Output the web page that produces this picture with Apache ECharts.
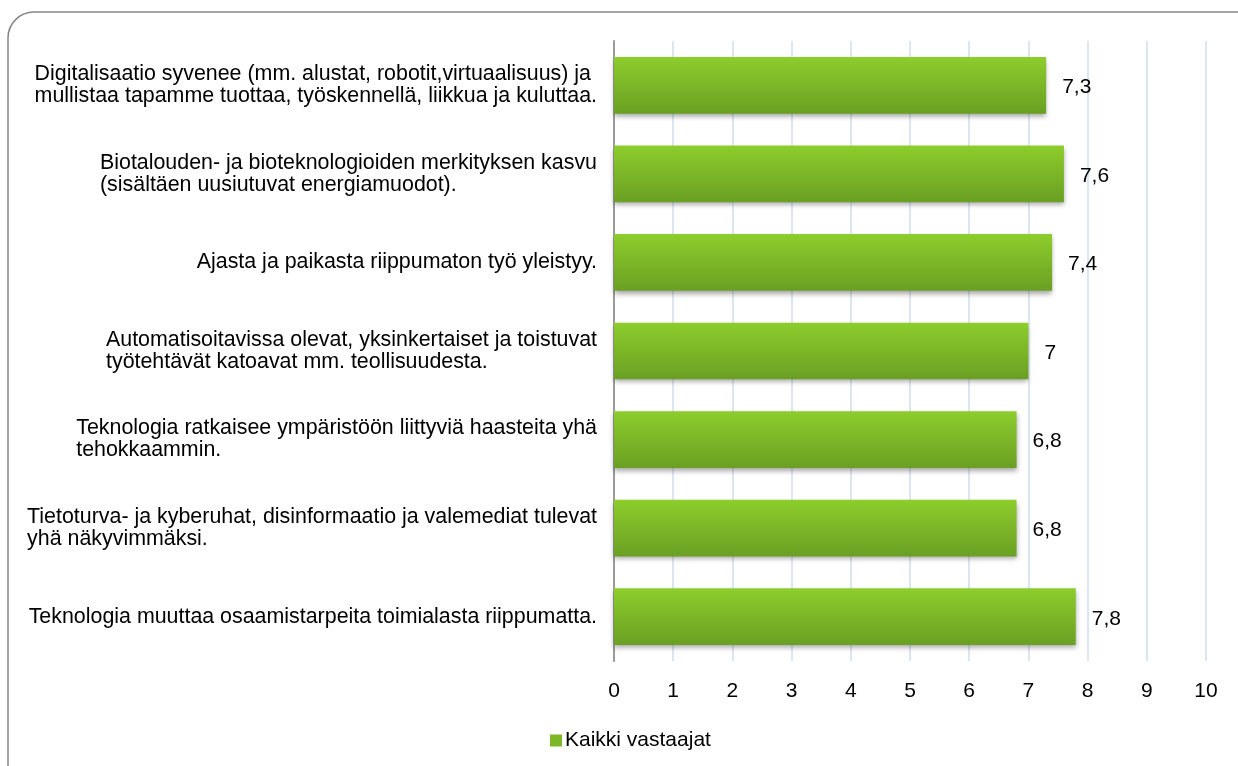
<!DOCTYPE html>
<html>
<head>
<meta charset="utf-8">
<script src="https://cdn.jsdelivr.net/npm/echarts@6/dist/echarts.min.js"></script>
<style>
  html, body { margin: 0; padding: 0; background: #fff; }
  #chart { width: 1238px; height: 766px; }
</style>
</head>
<body>
<div id="chart"></div>
<script>
const categories = [
  "Digitalisaatio syvenee (mm. alustat, robotit,virtuaalisuus) ja\nmullistaa tapamme tuottaa, työskennellä, liikkua ja kuluttaa.",
  "Biotalouden- ja bioteknologioiden merkityksen kasvu\n(sisältäen uusiutuvat energiamuodot).",
  "Ajasta ja paikasta riippumaton työ yleistyy.",
  "Automatisoitavissa olevat, yksinkertaiset ja toistuvat\ntyötehtävät katoavat mm. teollisuudesta.",
  "Teknologia ratkaisee ympäristöön liittyviä haasteita yhä\ntehokkaammin.",
  "Tietoturva- ja kyberuhat, disinformaatio ja valemediat tulevat\nyhä näkyvimmäksi.",
  "Teknologia muuttaa osaamistarpeita toimialasta riippumatta."
];
const values = [7.3, 7.6, 7.4, 7.0, 6.8, 6.8, 7.8];
const seriesName = "Kaikki vastaajat";

const font = "'Liberation Sans', Arial, sans-serif";
const fs = 21;
const chart = echarts.init(document.getElementById("chart"), null, { renderer: "canvas" });

const barGradient = new echarts.graphic.LinearGradient(0, 0, 0, 1, [
  { offset: 0, color: "#8dcd2c" },
  { offset: 1, color: "#6a9f23" }
]);

chart.setOption({
  animation: false,
  textStyle: { fontFamily: font },
  graphic: [{
    type: "rect",
    shape: { x: 8, y: 12, width: 1260, height: 790, r: 26 },
    style: { fill: "none", stroke: "#868686", lineWidth: 1.5 },
    silent: true,
    z: -1
  }],
  legend: {
    bottom: 10,
    left: 545,
    itemWidth: 12,
    itemHeight: 12,
    itemGap: 4,
    icon: "rect",
    textStyle: { fontSize: fs, color: "#000", fontFamily: font, padding: [0, 0, 0, -2] },
    data: [{ name: seriesName, itemStyle: { color: "#7cb728" } }]
  },
  grid: { left: 614, right: 32, top: 41, bottom: 105, containLabel: false },
  xAxis: {
    type: "value",
    min: 0,
    max: 10,
    interval: 1,
    axisLine: { show: false },
    axisTick: { show: false },
    axisLabel: { fontSize: fs, color: "#000", margin: 20, fontFamily: font },
    splitLine: { lineStyle: { color: "#dce6f2", width: 2 } }
  },
  yAxis: {
    type: "category",
    inverse: true,
    data: categories,
    axisLine: { show: true, lineStyle: { color: "#9a9a9a", width: 2 } },
    axisTick: { show: false },
    axisLabel: {
      margin: 17,
      align: "right",
      formatter: (v) => v.split("\n").map((l) => "{l|" + l + "}").join("\n"),
      rich: {
        l: { align: "left", fontSize: 21.4, lineHeight: 22, color: "#000", fontFamily: font }
      }
    }
  },
  series: [{
    name: seriesName,
    type: "bar",
    data: values,
    barWidth: "64%",
    itemStyle: {
      color: barGradient,
      shadowColor: "rgba(0,0,0,0.35)",
      shadowBlur: 5,
      shadowOffsetY: 3
    },
    label: {
      show: true,
      position: "right",
      distance: 16,
      fontSize: fs,
      color: "#000",
      fontFamily: font,
      offset: [0, 2],
      formatter: (p) => String(p.value).replace(".", ",")
    }
  }]
});
</script>
</body>
</html>
